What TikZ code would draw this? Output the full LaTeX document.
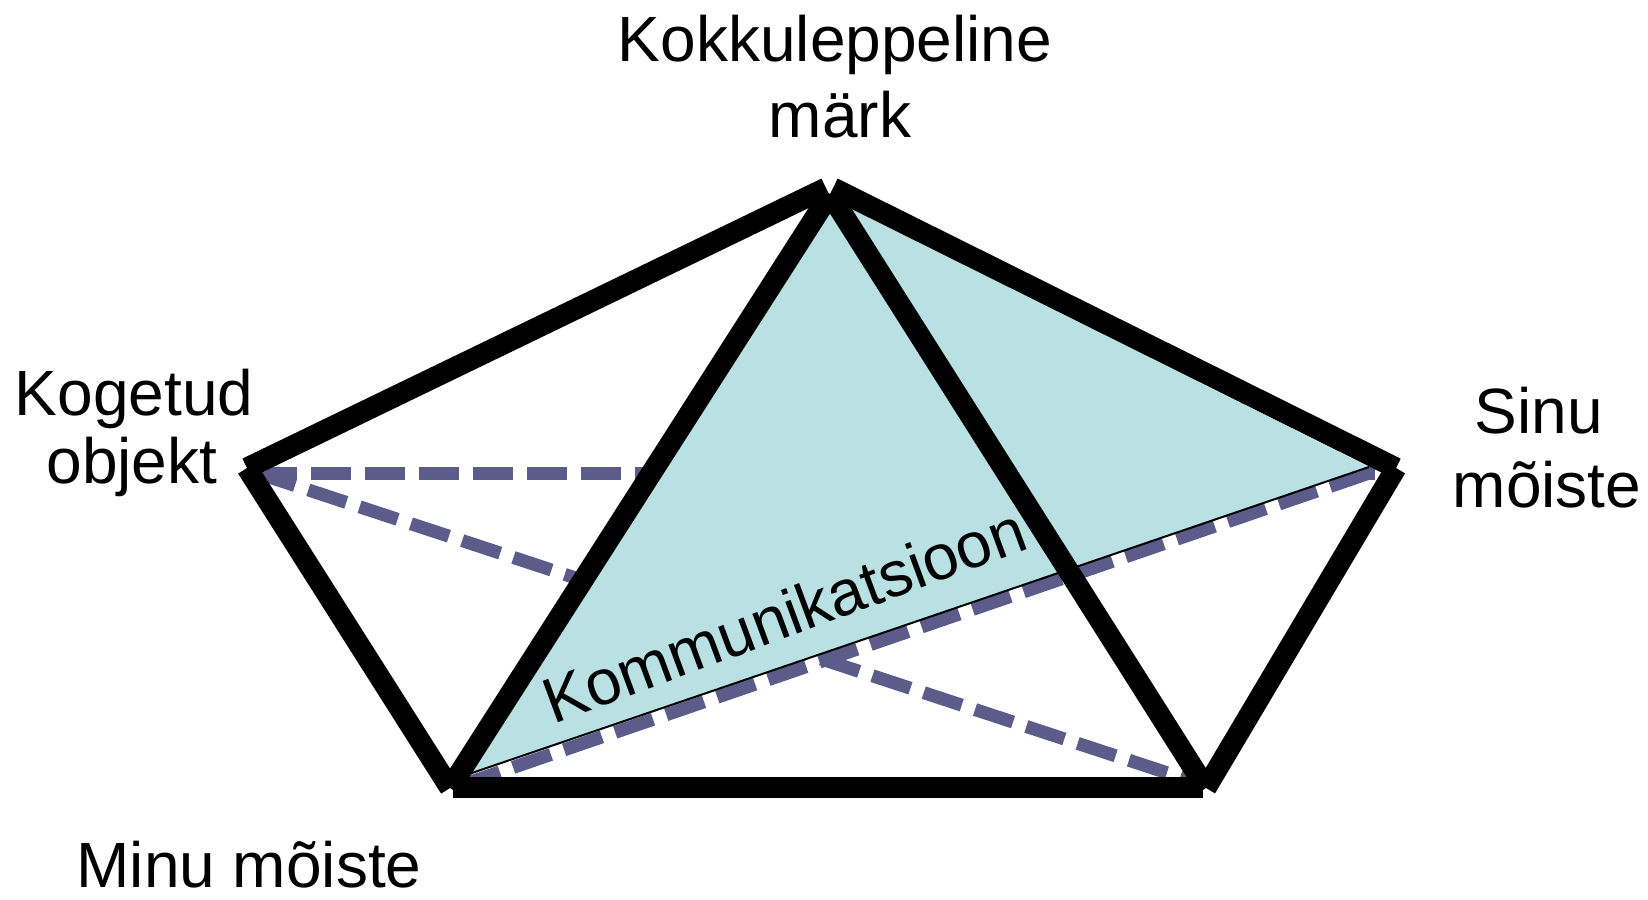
\documentclass[tikz,border=0pt]{standalone}
\usepackage{fontspec}
\setmainfont{Liberation Sans}
\definecolor{dashc}{RGB}{91,92,138}
\definecolor{tealc}{RGB}{185,224,227}
\begin{document}
\begin{tikzpicture}[x=1pt,y=-1pt,
  thickline/.style={line width=21pt, line cap=butt, draw=black},
  dashline/.style={line width=13pt, draw=dashc, line cap=butt, dash pattern=on 40pt off 14pt},
  lbl/.style={font=\fontsize{64}{74}\selectfont, anchor=base, inner sep=0pt}]
\useasboundingbox (0,0) rectangle (1648,899);
% dashed connectors
\coordinate (Ld) at (257,473);
\coordinate (Rh) at (1375,473);
\coordinate (BRd) at (1195,782);
\coordinate (BLd) at (462,785);
\coordinate (Rd) at (1375,471);
\draw[dashline] (Ld) -- (Rh);
\draw[dashline] (Ld) -- (BRd);
\draw[dashline] (BLd) -- (Rd);
% communication triangle
\coordinate (Tt) at (830,198);
\coordinate (BLt) at (466,775);
\coordinate (Rt) at (1369,467);
\fill[tealc] (Tt) -- (BLt) -- (Rt) -- cycle;
\draw[line width=2pt] (BLt) -- (Rt);
% thick edges
\coordinate (T1) at (826,188);
\coordinate (T2) at (833,188);
\coordinate (T3) at (830,194);
\coordinate (L) at (247,468);
\coordinate (R) at (1396,468);
\coordinate (BL) at (450,788);
\coordinate (BR) at (1206,788);
\coordinate (BLb) at (453,787);
\coordinate (BRb) at (1203,787);
\draw[thickline] (T1) -- (L);
\draw[thickline] (T2) -- (R);
\draw[thickline] (T3) -- (BL);
\draw[thickline] (T3) -- (BR);
\draw[thickline] (L) -- (BL);
\draw[thickline] (R) -- (BR);
\draw[thickline] (BLb) -- (BRb);
% labels
\node[lbl] (topA) at (835,62) {Kokkuleppeline};
\node[lbl] (topB) at (840,137) {märk};
\node[lbl] (leftA) at (134,415) {Kogetud};
\node[lbl] (leftB) at (132,483) {objekt};
\node[lbl] (rightA) at (1539,433) {Sinu};
\node[lbl] (rightB) at (1547,507) {mõiste};
\node[lbl] (bottom) at (249,887) {Minu mõiste};
\node[lbl, rotate=20.3] (comm) at (792,636) {Kommunikatsioon};
\end{tikzpicture}
\end{document}
